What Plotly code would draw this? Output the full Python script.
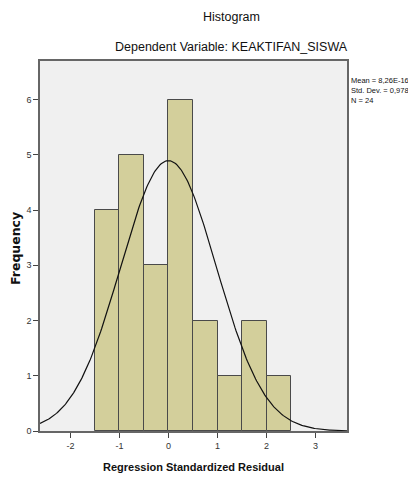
import numpy as np
import plotly.graph_objects as go

bin_edges = [-1.5, -1.0, -0.5, 0.0, 0.5, 1.0, 1.5, 2.0, 2.5]
counts = [4, 5, 3, 6, 2, 1, 2, 1]
x_ticks = [-2, -1, 0, 1, 2, 3]
y_ticks = [0, 1, 2, 3, 4, 5, 6]
mean_val = 8.26e-16
sd_val = 0.978
n_val = 24

centers = [(a + b) / 2 for a, b in zip(bin_edges[:-1], bin_edges[1:])]
width = bin_edges[1] - bin_edges[0]

xr = [-2.62, 3.64]
xs = np.linspace(xr[0], xr[1], 300)
ys = n_val * width * np.exp(-0.5 * ((xs - mean_val) / sd_val) ** 2) / (sd_val * np.sqrt(2 * np.pi))

# page body has an 8px margin; figure drawn at (8, 8)
OFF = 8
W, H = 416 - OFF, 477 - OFF
L, R, T, B = 40, 347, 61, 431  # target plot area in window pixels

fig = go.Figure()
fig.add_trace(go.Bar(x=centers, y=counts, width=[width] * len(counts),
                     marker=dict(color="#D3CF9B", line=dict(color="#4a4a4a", width=1)),
                     hoverinfo="skip"))
fig.add_trace(go.Scatter(x=xs, y=ys, mode="lines",
                         line=dict(color="#111111", width=1.2), hoverinfo="skip"))

fig.update_layout(
    width=W, height=H,
    margin=dict(l=L - OFF, r=(416 - R), t=T - OFF, b=(477 - B)),
    paper_bgcolor="white", plot_bgcolor="#F0F0F0",
    showlegend=False, bargap=0,
    font=dict(family="Liberation Sans, Arial, sans-serif", size=9, color="#333"),
    xaxis=dict(range=xr, tickvals=x_ticks, ticktext=[str(v) for v in x_ticks],
               ticks="outside", ticklen=5, tickcolor="#444",
               showgrid=False, zeroline=False, showline=True, linecolor="#666",
               mirror=True, linewidth=1.5, tickfont=dict(size=9)),
    yaxis=dict(range=[0, 6.70], tickvals=y_ticks, ticktext=[str(v) for v in y_ticks],
               ticks="outside", ticklen=5, tickcolor="#444",
               showgrid=False, zeroline=False, showline=True, linecolor="#666",
               mirror=True, linewidth=1.5, tickfont=dict(size=9)),
)


def px_to_paper(px, py):
    return (px - L) / (R - L), (B - py) / (B - T)


annots = [
    ("Histogram", 232, 17, 12.5, "center"),
    ("Dependent Variable: KEAKTIFAN_SISWA", 232, 47, 12.5, "center"),
    ("<b>Regression Standardized Residual</b>", 193, 467, 11, "center"),
    ("Mean = 8,26E-16<br>Std. Dev. = 0,978<br>N = 24", 349, 91, 7.5, "left"),
]
for txt, px, py, sz, al in annots:
    ax, ay = px_to_paper(px, py)
    fig.add_annotation(text=txt, x=ax, y=ay, xref="paper", yref="paper",
                       showarrow=False, xanchor="left" if al == "left" else "center",
                       yanchor="middle", align=al,
                       font=dict(size=sz, color="#111"))
fx, fy = px_to_paper(16, 249)
fig.add_annotation(text="<b>Frequency</b>", x=fx, y=fy, xref="paper", yref="paper",
                   showarrow=False, textangle=-90, xanchor="center", yanchor="middle",
                   font=dict(family="DejaVu Sans, Verdana, sans-serif", size=12.5, color="#111"))

fig.write_html("out.html")
